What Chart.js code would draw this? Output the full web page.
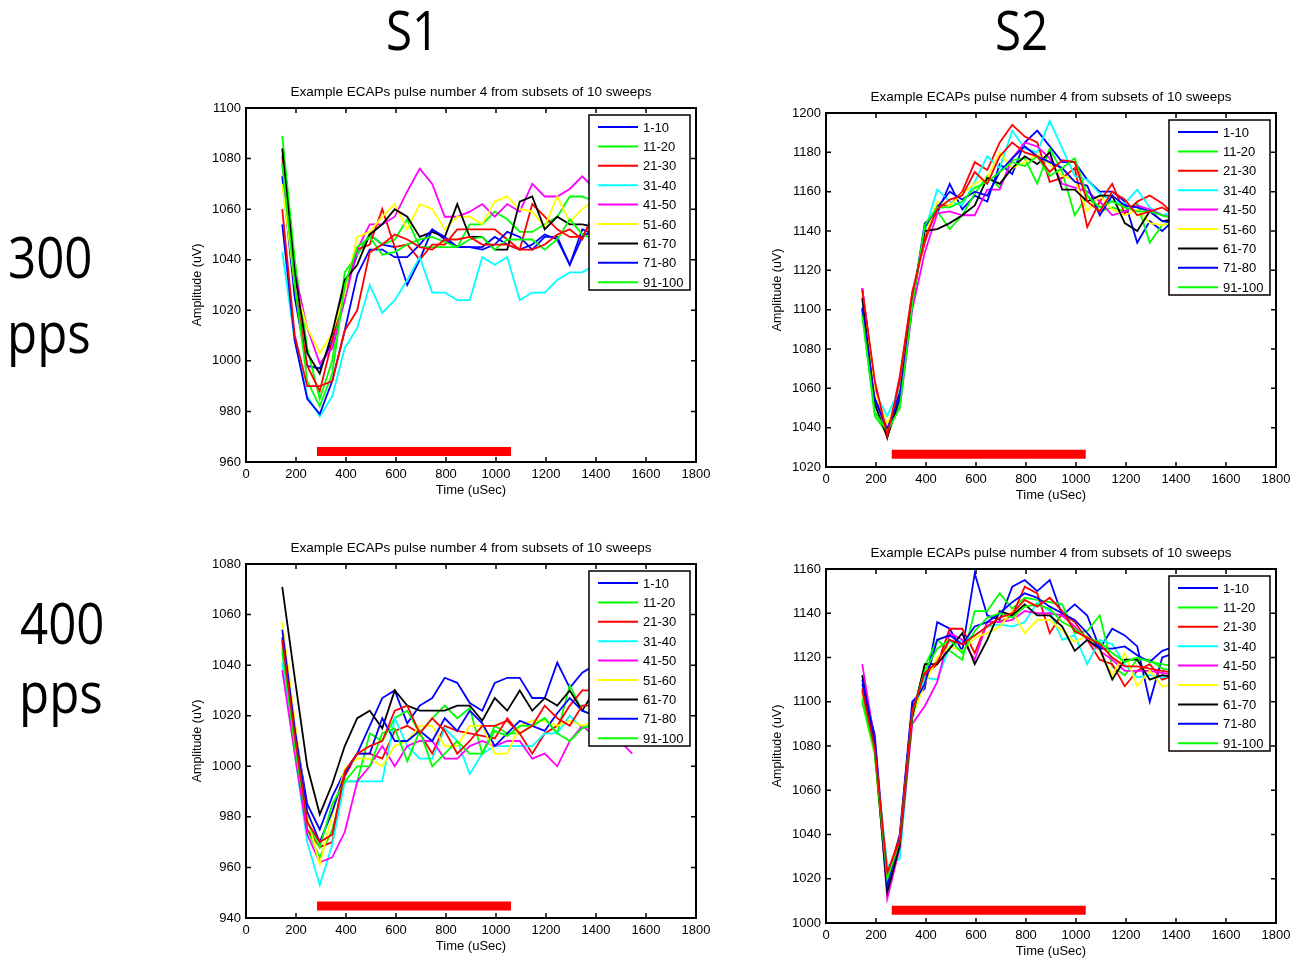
<!DOCTYPE html>
<html>
<head>
<meta charset="utf-8">
<script src="https://cdn.jsdelivr.net/npm/chart.js@4.4.0/dist/chart.umd.min.js"></script>
<style>
  body { margin: 0; background: #fff; width: 1301px; height: 960px; position: relative; overflow: hidden; }
  canvas { position: absolute; }
  .big { position: absolute; font-family: "Open Sans", sans-serif; font-size: 56px; line-height: 1; color: #000;
         white-space: nowrap; transform-origin: left top; transform: scaleX(0.88); }
</style>
</head>
<body>
<div class="big" style="left:386px; top:2px; font-size:54px">S1</div>
<div class="big" style="left:995px; top:2px; font-size:54px">S2</div>
<div class="big" style="left:8px; top:228px">300</div>
<div class="big" style="left:7px; top:303px">pps</div>
<div class="big" style="left:20px; top:594px">400</div>
<div class="big" style="left:19px; top:663px">pps</div>

<canvas id="s1_300" width="540" height="432" style="left:176px; top:78px"></canvas>
<canvas id="s2_300" width="540" height="432" style="left:756px; top:83px"></canvas>
<canvas id="s1_400" width="540" height="432" style="left:176px; top:534px"></canvas>
<canvas id="s2_400" width="540" height="432" style="left:756px; top:539px"></canvas>

<script>
// sample times (uSec)
const times = [145, 195, 245, 295, 345, 395, 445, 495, 545, 595, 645, 695, 745, 795, 845,
               895, 945, 995, 1045, 1095, 1145, 1195, 1245, 1295, 1345, 1395, 1445, 1495, 1545];

const legendLabels = ['1-10', '11-20', '21-30', '31-40', '41-50', '51-60', '61-70', '71-80', '91-100'];
// matlab colour order b g r c m y k b g r (10 subsets, legend shows 9)
const lineColors = ['#0000ff', '#00ff00', '#ff0000', '#00ffff', '#ff00ff', '#ffff00', '#000000', '#0000ff', '#00ff00', '#ff0000'];

const chartTitle = 'Example ECAPs pulse number 4 from subsets of 10 sweeps';

// S1, 300 pps (uV)
const s1_300 = [
  [1073,1025,998,997,1008,1028,1042,1050,1046,1045,1030,1040,1052,1048,1045,1045,1045,1049,1046,1044,1046,1050,1048,1038,1052,1050,1053,1051,1054],
  [1089,1040,1005,985,1000,1035,1042,1050,1046,1048,1056,1045,1045,1045,1045,1054,1054,1059,1056,1051,1051,1054,1057,1065,1065,1063,1062,1060,1061],
  [1081,1030,998,988,1008,1030,1044,1046,1060,1045,1046,1040,1046,1046,1052,1052,1052,1052,1048,1044,1062,1057,1052,1049,1049,1058,1055,1052,1050],
  [1043,1008,986,978,986,1005,1013,1030,1019,1024,1032,1041,1027,1027,1024,1024,1041,1038,1041,1024,1027,1027,1032,1035,1035,1038,1040,1041,1042],
  [1078,1035,1013,999,1005,1024,1044,1054,1054,1057,1067,1076,1070,1057,1057,1059,1062,1057,1062,1059,1070,1065,1065,1068,1073,1068,1066,1065,1064],
  [1070,1030,1013,1003,1011,1027,1049,1051,1057,1062,1052,1062,1060,1052,1057,1057,1054,1063,1065,1060,1059,1053,1065,1055,1060,1064,1063,1062,1062],
  [1084,1035,1003,995,1011,1032,1038,1050,1054,1060,1057,1049,1051,1049,1062,1049,1049,1044,1044,1063,1065,1052,1057,1054,1054,1053,1053,1054,1053],
  [1054,1008,985,979,992,1012,1034,1044,1044,1041,1041,1046,1052,1049,1045,1045,1044,1046,1051,1049,1044,1049,1049,1038,1049,1052,1050,1052,1053],
  [1078,1030,992,982,995,1030,1045,1049,1042,1043,1046,1048,1049,1047,1045,1048,1049,1044,1048,1048,1048,1044,1048,1056,1050,1048,1052,1050,1052],
  [1060,1010,990,990,992,1012,1020,1043,1046,1050,1048,1045,1044,1048,1048,1049,1046,1046,1046,1044,1044,1046,1050,1052,1048,1060,1056,1050,1048]
];

// S2, 300 pps
const s2_300 = [
  [1100,1055,1040,1058,1103,1144,1149,1164,1151,1158,1155,1174,1169,1185,1191,1183,1175,1175,1166,1160,1160,1155,1134,1145,1140,1146,1148,1146,1145],
  [1098,1046,1037,1052,1104,1141,1150,1141,1148,1159,1168,1162,1176,1177,1164,1182,1170,1148,1158,1150,1152,1150,1154,1134,1143,1145,1143,1142,1142],
  [1111,1062,1035,1066,1109,1134,1153,1153,1160,1175,1171,1185,1194,1188,1185,1165,1167,1172,1142,1155,1164,1149,1155,1158,1154,1148,1146,1145,1144],
  [1105,1058,1046,1060,1106,1140,1161,1155,1153,1165,1178,1172,1191,1182,1180,1196,1182,1168,1166,1159,1155,1154,1161,1152,1148,1150,1149,1148,1147],
  [1111,1060,1040,1050,1100,1129,1149,1150,1148,1148,1161,1161,1177,1185,1183,1177,1164,1162,1160,1155,1148,1150,1153,1151,1148,1147,1146,1145,1145],
  [1108,1058,1042,1055,1104,1137,1155,1153,1159,1164,1167,1180,1172,1175,1179,1174,1168,1166,1150,1158,1151,1148,1151,1144,1143,1145,1144,1143,1143],
  [1106,1052,1035,1055,1105,1140,1141,1144,1148,1153,1167,1164,1172,1178,1174,1180,1161,1161,1155,1158,1158,1144,1140,1150,1145,1146,1145,1144,1143],
  [1101,1054,1039,1056,1102,1142,1152,1160,1156,1160,1158,1170,1177,1183,1178,1175,1172,1165,1163,1148,1158,1153,1152,1150,1145,1144,1144,1143,1142],
  [1097,1048,1038,1050,1102,1143,1152,1152,1155,1162,1165,1170,1175,1173,1178,1168,1172,1177,1158,1152,1155,1152,1150,1150,1148,1146,1144,1142,1142],
  [1110,1064,1036,1064,1108,1136,1151,1156,1158,1170,1164,1178,1185,1180,1178,1170,1176,1175,1155,1150,1160,1156,1148,1150,1152,1148,1146,1145,1144]
];

// S1, 400 pps
const s1_400 = [
  [1051,1015,985,975,988,998,1005,1016,1027,1030,1017,1024,1027,1035,1033,1025,1022,1033,1035,1035,1027,1027,1041,1031,1037,1040,1036,1034,1038],
  [1045,1005,975,964,975,994,994,1013,1010,1019,1022,1013,1019,1024,1019,1023,1005,1016,1013,1013,1016,1019,1013,1032,1022,1020,1022,1021,1020],
  [1049,1010,975,968,970,996,1005,1005,1003,1014,1016,1013,1005,1016,1014,1013,1012,1011,1019,1013,1005,1013,1016,1024,1030,1030,1028,1026,1024],
  [1041,1005,970,953,969,994,994,994,994,1019,1008,1003,1003,1015,1010,997,1005,1008,1008,1008,1008,1013,1013,1020,1015,1016,1017,1018,1018],
  [1038,1005,973,962,964,974,994,1000,1008,1000,1008,1010,1010,1003,1003,1008,1010,1008,1010,1010,1003,1005,1000,1010,1016,1012,1016,1010,1005],
  [1057,1018,980,961,981,999,1003,1003,1000,1008,1010,1016,1016,1008,1008,1016,1016,1005,1005,1016,1018,1018,1016,1018,1016,1018,1020,1019,1018],
  [1071,1035,1000,981,993,1008,1019,1022,1015,1030,1024,1022,1022,1022,1024,1024,1018,1027,1022,1030,1022,1027,1024,1030,1022,1030,1026,1024,1025],
  [1054,1015,982,970,982,997,1005,1005,1019,1010,1010,1014,1010,1019,1014,1022,1017,1008,1013,1018,1016,1014,1021,1027,1022,1020,1022,1024,1023],
  [1047,1008,978,968,985,994,1000,1000,1013,1015,1002,1014,1000,1005,1010,1005,1005,1014,1012,1016,1016,1019,1013,1010,1015,1017,1016,1014,1015],
  [1050,1012,978,970,973,998,1005,1008,1010,1022,1024,1013,1019,1014,1005,1010,1016,1016,1018,1013,1016,1024,1019,1016,1024,1024,1026,1022,1023]
];

// S2, 400 pps
const s2_400 = [
  [1108,1085,1019,1040,1100,1106,1136,1133,1123,1158,1139,1137,1152,1155,1150,1155,1139,1144,1139,1124,1133,1130,1125,1100,1120,1122,1118,1116,1115],
  [1100,1076,1016,1036,1094,1116,1128,1123,1119,1141,1141,1149,1142,1147,1146,1145,1144,1131,1132,1139,1116,1112,1119,1119,1115,1114,1113,1112,1111],
  [1106,1080,1022,1039,1095,1112,1117,1133,1133,1122,1136,1136,1139,1152,1149,1131,1140,1136,1128,1119,1117,1107,1114,1117,1110,1112,1111,1110,1110],
  [1102,1078,1026,1029,1092,1111,1110,1125,1128,1130,1134,1135,1134,1136,1145,1141,1128,1130,1117,1128,1126,1117,1111,1112,1111,1112,1111,1110,1110],
  [1117,1082,1011,1034,1090,1098,1109,1131,1128,1119,1136,1136,1137,1141,1140,1140,1139,1134,1128,1123,1119,1114,1114,1114,1113,1112,1111,1111,1110],
  [1104,1076,1018,1036,1093,1108,1120,1125,1123,1129,1131,1134,1141,1131,1137,1137,1132,1127,1130,1123,1112,1122,1107,1114,1107,1108,1107,1106,1106],
  [1112,1078,1014,1035,1093,1117,1117,1124,1131,1117,1128,1141,1139,1144,1139,1139,1134,1123,1128,1124,1110,1119,1119,1110,1112,1111,1110,1109,1109],
  [1110,1083,1017,1038,1098,1108,1128,1130,1126,1134,1136,1140,1145,1149,1147,1143,1140,1137,1131,1124,1124,1125,1121,1118,1123,1125,1121,1118,1117],
  [1101,1077,1020,1037,1095,1114,1124,1128,1122,1132,1138,1140,1138,1143,1144,1142,1136,1133,1129,1127,1122,1118,1120,1118,1117,1116,1115,1114,1113],
  [1105,1079,1023,1037,1096,1113,1118,1128,1126,1130,1134,1138,1140,1146,1143,1147,1141,1132,1129,1126,1120,1116,1116,1115,1114,1113,1112,1111,1111]
];

// red stimulus bar: start/end time and level
const s1BarTimes = [284, 1060];
const s2BarTimes = [263, 1039];
const barLevels = { s1_300: 964.2, s2_300: 1026.5, s1_400: 944.7, s2_400: 1005.8 };

const FONT = '"Liberation Sans", Arial, sans-serif';

// box, inward ticks, title and the legend box drawn over the lines
const matlabAxes = {
  id: 'matlabAxes',
  afterDatasetsDraw(chart) {
    const { ctx, chartArea: a, scales: { x, y } } = chart;
    ctx.save();

    // legend
    const bw = 101, bh = 175;
    const bx = a.right - 6 - bw, by = a.top + 7;
    ctx.fillStyle = '#fff';
    ctx.fillRect(bx, by, bw, bh);
    ctx.strokeStyle = '#000';
    ctx.lineWidth = 1.5;
    ctx.strokeRect(bx, by, bw, bh);
    ctx.font = '13px ' + FONT;
    ctx.textAlign = 'left';
    ctx.textBaseline = 'middle';
    legendLabels.forEach((lab, i) => {
      const ry = by + 12 + i * 19.4;
      ctx.strokeStyle = chart.data.datasets[i].borderColor;
      ctx.lineWidth = 2;
      ctx.beginPath();
      ctx.moveTo(bx + 9, ry);
      ctx.lineTo(bx + 49, ry);
      ctx.stroke();
      ctx.fillStyle = '#000';
      ctx.fillText(lab, bx + 54, ry + 1);
    });

    // frame
    ctx.strokeStyle = '#000';
    ctx.lineWidth = 2;
    ctx.strokeRect(a.left, a.top, a.right - a.left, a.bottom - a.top);
    ctx.lineWidth = 1.5;
    ctx.beginPath();
    x.ticks.forEach(t => {
      const px = x.getPixelForValue(t.value);
      ctx.moveTo(px, a.bottom); ctx.lineTo(px, a.bottom - 5);
      ctx.moveTo(px, a.top); ctx.lineTo(px, a.top + 5);
    });
    y.ticks.forEach(t => {
      const py = y.getPixelForValue(t.value);
      ctx.moveTo(a.left, py); ctx.lineTo(a.left + 5, py);
      ctx.moveTo(a.right, py); ctx.lineTo(a.right - 5, py);
    });
    ctx.stroke();

    // title
    ctx.fillStyle = '#000';
    ctx.font = '13.5px ' + FONT;
    ctx.textAlign = 'center';
    ctx.fillText(chartTitle, (a.left + a.right) / 2, a.top - 16);
    ctx.restore();
  }
};

const plainTick = v => String(v);

function makeChart(id, values, yMin, yMax, barTimes) {
  const datasets = values.map((vals, i) => ({
    label: legendLabels[i] || 'subset ' + (i + 1),
    data: times.map((t, j) => ({ x: t, y: vals[j] })),
    borderColor: lineColors[i],
    borderWidth: 1.8,
    pointRadius: 0,
    tension: 0,
    order: values.length - i
  }));
  datasets.push({
    label: 'stimulus',
    data: barTimes.map(t => ({ x: t, y: barLevels[id] })),
    borderColor: '#ff0000',
    borderWidth: 9,
    borderCapStyle: 'butt',
    pointRadius: 0,
    order: 99
  });

  new Chart(document.getElementById(id), {
    type: 'line',
    data: { datasets },
    plugins: [matlabAxes],
    options: {
      responsive: false,
      animation: false,
      events: [],
      layout: { padding: { left: 0, top: 30, right: 20, bottom: 0 } },
      plugins: { legend: { display: false }, tooltip: { enabled: false } },
      scales: {
        x: {
          type: 'linear', min: 0, max: 1800,
          ticks: { stepSize: 200, color: '#000', padding: 5, maxRotation: 0, autoSkip: false, callback: plainTick, font: { size: 13, family: FONT } },
          grid: { display: false, drawTicks: false },
          border: { display: false },
          title: { display: true, text: 'Time (uSec)', color: '#000', font: { size: 13, family: FONT }, padding: { top: 0, bottom: 12 } },
          afterFit(s) { s.height = 48; }
        },
        y: {
          min: yMin, max: yMax,
          ticks: { stepSize: 20, color: '#000', padding: 5, callback: plainTick, font: { size: 13, family: FONT } },
          grid: { display: false, drawTicks: false },
          border: { display: false },
          title: { display: true, text: 'Amplitude (uV)', color: '#000', font: { size: 12.5, family: FONT }, padding: { top: 14, bottom: 0 } },
          afterFit(s) { s.width = 70; }
        }
      }
    }
  });
}

makeChart('s1_300', s1_300, 960, 1100, s1BarTimes);
makeChart('s2_300', s2_300, 1020, 1200, s2BarTimes);
makeChart('s1_400', s1_400, 940, 1080, s1BarTimes);
makeChart('s2_400', s2_400, 1000, 1160, s2BarTimes);
</script>
</body>
</html>
